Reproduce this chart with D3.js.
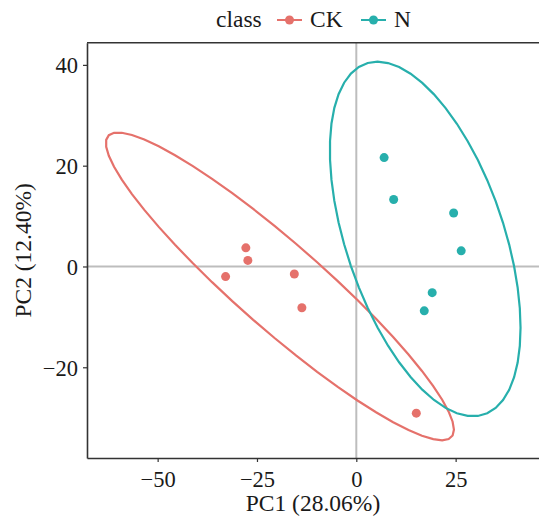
<!DOCTYPE html>
<html>
<head>
  <meta charset="utf-8">
  <title>PCA</title>
  <style>
    body { margin: 0; background: #fff; }
    text { font-family: "Liberation Serif", "Times New Roman", serif; fill: #1a1a1a; }
  </style>
</head>
<body>
  <script src="https://cdn.jsdelivr.net/npm/d3@7"></script>
  <script>
    var width = 539;
    var height = 518;

    // data
    var classes = ["CK", "N"];
    var ckX = [-27.8, -27.3, -32.9, -15.6, -13.7, 15.1];
    var ckY = [3.7, 1.2, -2.0, -1.5, -8.2, -29.1];
    var nX = [7.0, 9.4, 24.5, 26.4, 19.1, 17.1];
    var nY = [21.6, 13.3, 10.6, 3.1, -5.2, -8.8];
    var xTicks = [-50, -25, 0, 25];
    var yTicks = [-20, 0, 20, 40];
    var colors = ["#e5716b", "#27afac"];

    var groups = [
      { name: "CK", pts: ckX.map(function(v, i){ return [v, ckY[i]]; }) },
      { name: "N", pts: nX.map(function(v, i){ return [v, nY[i]]; }) }
    ];

    var margin = { left: 87, right: 0, top: 42.7, bottom: 60 };

    var x = d3.scaleLinear().domain([-67.78, 45.98]).range([margin.left, width - margin.right]);
    var y = d3.scaleLinear().domain([-38.0, 44.4]).range([height - margin.bottom, margin.top]);
    var color = d3.scaleOrdinal().domain(classes).range(colors);

    // robust t covariance, same as MASS::cov.trob used by stat_ellipse
    function covTrob(pts) {
      var nu = 5, p = 2, n = pts.length;
      var loc = [d3.mean(pts, function(d){ return d[0]; }), d3.mean(pts, function(d){ return d[1]; })];
      var w = pts.map(function(){ return 1; });
      var X;
      for (var iter = 0; iter < 25; iter++) {
        var w0 = w.slice();
        X = pts.map(function(d){ return [d[0] - loc[0], d[1] - loc[1]]; });
        var sw = d3.sum(w), a = 0, b = 0, c = 0;
        X.forEach(function(v, i){
          a += w[i] * v[0] * v[0]; b += w[i] * v[0] * v[1]; c += w[i] * v[1] * v[1];
        });
        a /= sw; b /= sw; c /= sw;
        var det = a * c - b * b;
        w = X.map(function(v){
          var q = (c * v[0] * v[0] - 2 * b * v[0] * v[1] + a * v[1] * v[1]) / det;
          return (nu + p) / (nu + q);
        });
        var sw2 = d3.sum(w);
        loc = [d3.sum(pts, function(d, i){ return w[i] * d[0]; }) / sw2,
               d3.sum(pts, function(d, i){ return w[i] * d[1]; }) / sw2];
        var done = w.every(function(v, i){ return Math.abs(v - w0[i]) < 0.01; });
        if (done) break;
      }
      var s11 = 0, s12 = 0, s22 = 0;
      X.forEach(function(v, i){
        s11 += w[i] * v[0] * v[0]; s12 += w[i] * v[0] * v[1]; s22 += w[i] * v[1] * v[1];
      });
      return { center: loc, cov: [s11 / n, s12 / n, s22 / n] };
    }

    function ellipse(pts) {
      var v = covTrob(pts);
      var m = pts.length - 1;
      // qf(0.95, 2, m) closed form
      var fq = (m / 2) * (Math.pow(0.05, -2 / m) - 1);
      var radius = Math.sqrt(2 * fq);
      var ra = Math.sqrt(v.cov[0]);
      var rb = v.cov[1] / ra;
      var rc = Math.sqrt(v.cov[2] - rb * rb);
      return d3.range(0, 52).map(function(k){
        var t = k * 2 * Math.PI / 51;
        var cx = Math.cos(t), sy = Math.sin(t);
        return [v.center[0] + radius * cx * ra, v.center[1] + radius * (cx * rb + sy * rc)];
      });
    }

    var svg = d3.select("body").append("svg")
                .attr("width", width)
                .attr("height", height);

    svg.append("rect").attr("width", width).attr("height", height).attr("fill", "#fff");

    // zero lines
    svg.append("line")
       .attr("x1", x(0)).attr("x2", x(0))
       .attr("y1", y.range()[0]).attr("y2", y.range()[1])
       .attr("stroke", "#bdbdbd").attr("stroke-width", 2);
    svg.append("line")
       .attr("x1", x.range()[0]).attr("x2", x.range()[1])
       .attr("y1", y(0)).attr("y2", y(0))
       .attr("stroke", "#bdbdbd").attr("stroke-width", 2);

    // ellipses
    var line = d3.line().x(function(d){ return x(d[0]); }).y(function(d){ return y(d[1]); }).curve(d3.curveLinearClosed);
    groups.forEach(function(g){
      svg.append("path")
         .attr("d", line(ellipse(g.pts)))
         .attr("fill", "none")
         .attr("stroke", color(g.name))
         .attr("stroke-width", 2.2);
    });

    // points
    groups.forEach(function(g){
      svg.selectAll(null).data(g.pts).enter().append("circle")
         .attr("cx", function(d){ return x(d[0]); })
         .attr("cy", function(d){ return y(d[1]); })
         .attr("r", 4.5)
         .attr("fill", color(g.name));
    });

    // axes
    var xAxis = svg.append("g")
       .attr("transform", "translate(0," + y.range()[0] + ")")
       .call(d3.axisBottom(x).tickValues(xTicks).tickSizeInner(4).tickSizeOuter(0).tickPadding(4).tickFormat(d3.format("")));
    var yAxis = svg.append("g")
       .attr("transform", "translate(" + x.range()[0] + ",0)")
       .call(d3.axisLeft(y).tickValues(yTicks).tickSizeInner(4).tickSizeOuter(0).tickPadding(5).tickFormat(d3.format("")));

    [xAxis, yAxis].forEach(function(a){
      a.select(".domain").attr("stroke", "#333").attr("stroke-width", 1.6);
      a.selectAll(".tick line").attr("stroke", "#333").attr("stroke-width", 1.2);
      a.selectAll(".tick text").attr("font-size", 22.5).attr("fill", "#1a1a1a")
       .style("font-family", "'Liberation Serif', serif");
    });
    xAxis.selectAll(".tick text").attr("dy", "0.95em");
    yAxis.selectAll(".tick text").attr("dy", "0.35em");

    // top border
    svg.append("line")
       .attr("x1", x.range()[0]).attr("x2", x.range()[1])
       .attr("y1", y.range()[1]).attr("y2", y.range()[1])
       .attr("stroke", "#333").attr("stroke-width", 1.6);

    // axis titles
    svg.append("text")
       .attr("x", (x.range()[0] + x.range()[1]) / 2)
       .attr("y", 511)
       .attr("text-anchor", "middle")
       .attr("font-size", 23.5)
       .text("PC1 (28.06%)");

    svg.append("text")
       .attr("transform", "translate(31," + ((y.range()[0] + y.range()[1]) / 2) + ") rotate(-90)")
       .attr("text-anchor", "middle")
       .attr("font-size", 23.5)
       .text("PC2 (12.40%)");

    // legend
    var legend = svg.append("g");
    legend.append("text").attr("x", 216).attr("y", 26.5).attr("font-size", 23.5).text("class");
    var keyX = [277, 361];
    classes.forEach(function(c, i){
      var k = legend.append("g").attr("transform", "translate(" + keyX[i] + ",0)");
      k.append("line").attr("x1", 0).attr("x2", 25).attr("y1", 20).attr("y2", 20)
       .attr("stroke", color(c)).attr("stroke-width", 2);
      k.append("circle").attr("cx", 12.5).attr("cy", 20).attr("r", 4.5).attr("fill", color(c));
      k.append("text").attr("x", 33).attr("y", 26.5).attr("font-size", 23.5).text(c);
    });
  </script>
</body>
</html>
